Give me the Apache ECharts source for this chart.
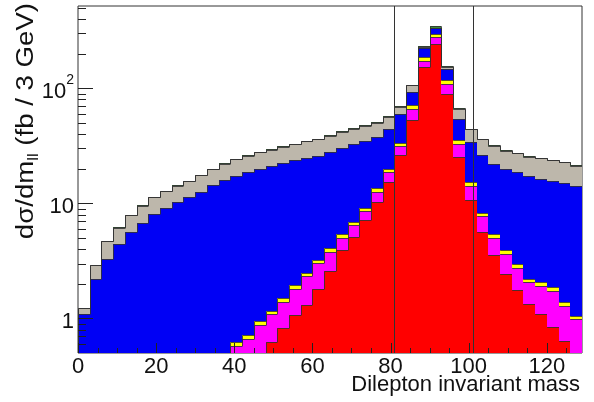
<!DOCTYPE html>
<html>
<head>
<meta charset="utf-8">
<script src="https://cdn.jsdelivr.net/npm/echarts@6/dist/echarts.min.js"></script>
<style>
  html, body { margin: 0; padding: 0; background: #fff; }
  #chart { width: 594px; height: 402px; }
</style>
</head>
<body>
<div id="chart"></div>
<script>
// bin lower edges (3 GeV bins)
const binLow = [0, 3, 6, 9, 12, 15, 18, 21, 24, 27, 30, 33, 36, 39, 42, 45, 48, 51, 54, 57, 60,
  63, 66, 69, 72, 75, 78, 81, 84, 87, 90, 93, 96, 99, 102, 105, 108, 111, 114, 117, 120, 123, 126];
const binWidth = 3;

// stacked contributions, bottom to top
const red = [0.01, 0.01, 0.02, 0.02, 0.03, 0.04, 0.05, 0.06, 0.07, 0.09, 0.11, 0.14, 0.17,
  0.20, 0.30, 0.42, 0.62, 0.83, 1.06, 1.30, 1.80, 2.60, 3.90, 5.10, 7.10, 10.3, 15.3, 26.1, 52.7,
  153, 245, 90, 25.3, 10.6, 5.63, 3.53, 2.45, 1.75, 1.34, 1.10, 0.84, 0.64, 0.45];
const magenta = [0.04, 0.05, 0.05, 0.05, 0.06, 0.07, 0.08, 0.10, 0.12, 0.13, 0.17, 0.19, 0.25,
  0.38, 0.36, 0.46, 0.47, 0.57, 0.75, 1.03, 1.22, 1.18, 1.12, 1.32, 1.46, 2.35, 3.3, 5.3, 13.3,
  21, 33, 19, 7.5, 3.6, 2.1, 1.49, 1.18, 0.99, 0.72, 0.83, 0.90, 0.65, 0.53];
const yellow = [0, 0, 0, 0.01, 0.01, 0.01, 0.01, 0.01, 0.01, 0.02, 0.02, 0.03, 0.03,
  0.04, 0.05, 0.07, 0.08, 0.10, 0.14, 0.17, 0.23, 0.28, 0.38, 0.48, 0.64, 0.95, 1.4, 2.4, 5.0,
  13, 21, 8.2, 2.5, 1.1, 0.58, 0.38, 0.27, 0.21, 0.15, 0.14, 0.13, 0.10, 0.07];
const blue = [1.05, 2.15, 3.23, 4.32, 5.5, 6.68, 7.96, 9.03, 10.1, 11.16, 12.3, 13.94, 15.45,
  16.7, 17.9, 18.95, 19.9, 20.9, 21.65, 22.4, 22.8, 23.9, 24.8, 25.6, 25.8, 24.4, 24, 26.2, 22,
  37, 34, 31, 19.2, 18.8, 17.8, 16.7, 16.1, 15.75, 15.0, 14.3, 13.9, 13.6, 13.05];
const grey = [0.13, 0.70, 1.37, 1.76, 2.25, 2.74, 3.23, 3.52, 3.91, 4.3, 4.89, 5.58, 6.27,
  6.86, 7.35, 7.84, 8.23, 8.72, 9.21, 9.7, 10.2, 10.9, 11.85, 12.1, 12.35, 12.15, 12.4, 9.5, 13,
  3, 4, 4, 12.3, 9.9, 10, 9.5, 8.6, 8.45, 8.15, 8.4, 8.0, 7.7, 7.1];
const green = [0.01, 0.02, 0.03, 0.04, 0.05, 0.06, 0.07, 0.08, 0.09, 0.1, 0.11, 0.12, 0.13,
  0.14, 0.15, 0.16, 0.17, 0.18, 0.19, 0.2, 0.2, 0.2, 0.25, 0.3, 0.35, 0.45, 0.6, 1.0, 2.0,
  6, 9, 4, 1.2, 0.6, 0.4, 0.3, 0.3, 0.25, 0.25, 0.2, 0.2, 0.2, 0.2];

// mass window lines
const windowEdges = [81, 101];

// axis ticks
const xMajor = [0, 20, 40, 60, 80, 100, 120];
const xMinor = [5, 10, 15, 25, 30, 35, 45, 50, 55, 65, 70, 75, 85, 90, 95, 105, 110, 115, 125];
const yMajor = [1, 10, 100];
const yMinor = [0.6, 0.7, 0.8, 0.9, 2, 3, 4, 5, 6, 7, 8, 9, 20, 30, 40, 50, 60, 70, 80, 90,
  200, 300, 400, 500];

const Y_MIN = 0.5, Y_MAX = 520;
const FONT = "'Liberation Sans', Arial, sans-serif";

const layers = [
  { name: 'red', values: red, color: '#ff0000' },
  { name: 'magenta', values: magenta, color: '#ff00ff' },
  { name: 'yellow', values: yellow, color: '#ffff00' },
  { name: 'blue', values: blue, color: '#0000f5' },
  { name: 'grey', values: grey, color: '#bdb7ab' },
  { name: 'green', values: green, color: '#3a8a3a' }
];

// build [x0, x1, lo, hi, prevHi] per bin with cumulative stacking
const cum = binLow.map(() => 0);
const series = layers.map(layer => {
  const data = binLow.map((x, i) => {
    const lo = cum[i];
    const hi = lo + layer.values[i];
    return [x, x + binWidth, lo, hi];
  });
  data.forEach((d, i) => { cum[i] = d[3]; d.push(i > 0 ? data[i - 1][3] : Y_MIN); });
  return {
    name: layer.name,
    type: 'custom',
    clip: true,
    data: data,
    renderItem: function (params, api) {
      const x0 = api.value(0), x1 = api.value(1);
      const lo = Math.max(api.value(2), Y_MIN);
      const hi = Math.max(api.value(3), Y_MIN);
      const prev = Math.max(api.value(4), Y_MIN);
      const pA = api.coord([x0, lo]);
      const pB = api.coord([x1, hi]);
      const pP = api.coord([x0, prev]);
      const xa = Math.round(pA[0]), xb = Math.round(pB[0]);
      const ya = Math.round(pA[1]), yb = Math.round(pB[1]), yp = Math.round(pP[1]);
      const children = [];
      if (ya > yb) {
        children.push({
          type: 'rect',
          shape: { x: xa, y: yb, width: xb - xa, height: ya - yb },
          style: { fill: layer.color }
        });
      }
      children.push({
        type: 'polyline',
        shape: { points: [[xa + 0.5, yp + 0.5], [xa + 0.5, yb + 0.5], [xb + 0.5, yb + 0.5]] },
        style: { stroke: '#333', lineWidth: 1, fill: null, opacity: 0.85 }
      });
      return { type: 'group', children: children };
    }
  };
});

series.push({
  type: 'custom',
  data: windowEdges,
  clip: true,
  z: 5,
  renderItem: function (params, api) {
    const a = api.coord([api.value(0), Y_MIN]);
    const b = api.coord([api.value(0), Y_MAX]);
    const x = Math.round(a[0]) + 0.5;
    return { type: 'line', shape: { x1: x, y1: a[1], x2: x, y2: b[1] },
      style: { stroke: '#333', lineWidth: 1 } };
  }
});

// ticks drawn inward like the original frame
const tickData = []
  .concat(xMajor.map(v => [0, v, 1]))
  .concat(xMinor.map(v => [0, v, 0]))
  .concat(yMajor.map(v => [1, v, 1]))
  .concat(yMinor.map(v => [1, v, 0]));
series.push({
  type: 'custom',
  data: tickData,
  z: 6,
  clip: false,
  renderItem: function (params, api) {
    const isY = api.value(0) === 1, v = api.value(1), major = api.value(2) === 1;
    if (isY) {
      const p = api.coord([0, v]);
      const y = Math.round(p[1]) + 0.5;
      const len = major ? 15 : 8;
      return { type: 'line', shape: { x1: p[0], y1: y, x2: p[0] + len, y2: y },
        style: { stroke: '#222', lineWidth: 1 } };
    }
    const p = api.coord([v, Y_MIN]);
    const x = Math.round(p[0]) + 0.5;
    const len = major ? 10 : 5;
    return { type: 'line', shape: { x1: x, y1: p[1], x2: x, y2: p[1] - len },
      style: { stroke: '#222', lineWidth: 1 } };
  }
});

const chart = echarts.init(document.getElementById('chart'));
chart.setOption({
  animation: false,
  grid: { left: 78, right: 12, top: 6, bottom: 49, show: true, borderColor: '#333', borderWidth: 1,
    backgroundColor: 'transparent' },
  xAxis: {
    type: 'value', min: 0, max: 129, interval: 20,
    axisLine: { show: false }, axisTick: { show: false }, splitLine: { show: false },
    axisLabel: { fontFamily: FONT, fontSize: 22, color: '#111', margin: 3, showMaxLabel: false }
  },
  yAxis: {
    type: 'log', logBase: 10, min: Y_MIN, max: Y_MAX,
    axisLine: { show: false }, axisTick: { show: false }, splitLine: { show: false },
    axisLabel: {
      fontFamily: FONT, fontSize: 22, color: '#111', margin: 4,
      showMinLabel: false, showMaxLabel: false,
      formatter: function (v) {
        if (Math.abs(v - 100) < 1e-6) return '{n|10}{s|2}';
        return '{n|' + Math.round(v) + '}';
      },
      rich: {
        n: { fontFamily: FONT, fontSize: 22, color: '#111', lineHeight: 30, verticalAlign: 'bottom' },
        s: { fontFamily: FONT, fontSize: 14, color: '#111', lineHeight: 14, verticalAlign: 'top' }
      }
    }
  },
  graphic: [
    {
      type: 'text', right: 14, top: 374,
      style: { text: 'Dilepton invariant mass', font: '22px ' + FONT, fill: '#111' }
    },
    {
      type: 'text', x: 27, y: 3, rotation: Math.PI / 2, scaleX: 1.2,
      style: {
        text: '{a|d\u03c3/dm}{b|ll}{a| (fb / 3 GeV)}',
        align: 'right', verticalAlign: 'middle',
        rich: {
          a: { font: '23px ' + FONT, fill: '#111', lineHeight: 28, verticalAlign: 'middle' },
          b: { font: '14px ' + FONT, fill: '#111', lineHeight: 12, verticalAlign: 'bottom' }
        }
      }
    }
  ],
  series: series
});
</script>
</body>
</html>
